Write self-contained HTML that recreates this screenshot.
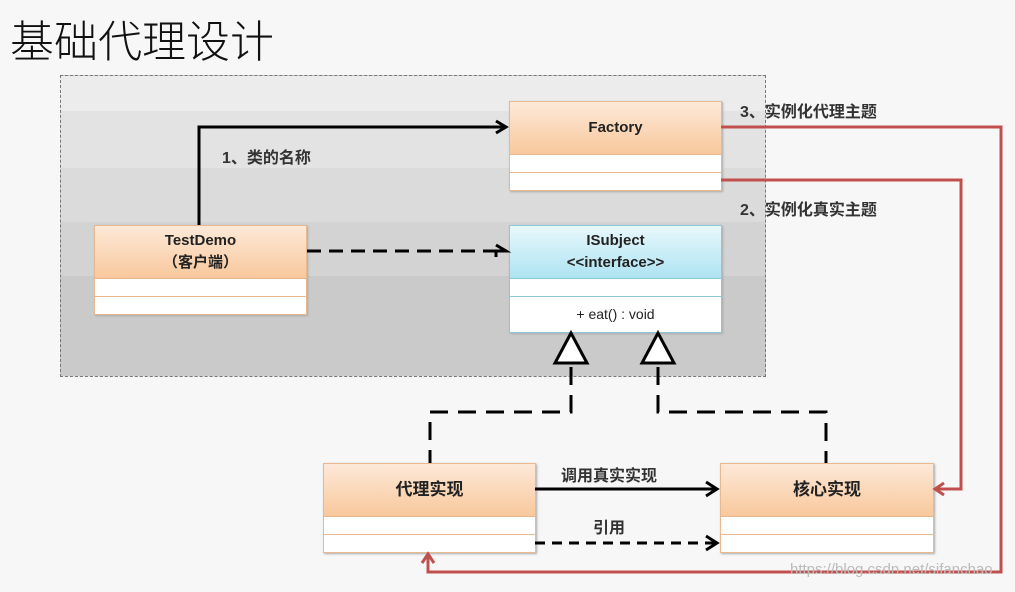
<!DOCTYPE html>
<html><head><meta charset="utf-8"><style>
body{margin:0;width:1015px;height:592px;background:#f7f7f7;overflow:hidden;position:relative;font-family:"Liberation Sans","Noto Sans CJK SC",sans-serif}
.t{position:absolute;left:10px;top:6px;font-size:44px;color:#111;font-family:"Noto Sans CJK SC",sans-serif;font-weight:300}
.cont{position:absolute;left:60px;top:75px;width:704px;height:300px;border:1px dashed #777;background:linear-gradient(#ececec 0,#ececec 35px,#e3e3e3 35px,#e3e3e3 92px,#dbdbdb 92px,#dbdbdb 146px,#d3d3d3 146px,#d3d3d3 200px,#cacaca 200px)}
.box{position:absolute;border:1px solid #e8b890;background:#fff;box-shadow:1px 1px 2px #aaa}
.hd{background:linear-gradient(#fde9d8,#f8c89c);border-bottom:1px solid #e8b890;display:flex;align-items:center;justify-content:center;text-align:center;font-weight:bold;font-size:15px;color:#222;line-height:22px}
.row{border-bottom:1px solid #e8b890}
.blue{border-color:#8cc8dc}.blue .hd{background:linear-gradient(#e8f8fc,#aee3f2);border-color:#8cc8dc}.blue .row{border-color:#8cc8dc}
.lb{position:absolute;font-size:16px;font-weight:bold;color:#333;font-family:"Liberation Sans","Noto Sans CJK SC",sans-serif}
</style></head><body>
<div class="t">基础代理设计</div>
<div class="cont"></div>
<div class="box" style="left:509px;top:101px;width:211px;height:88px"><div class="hd" style="height:52px">Factory</div><div class="row" style="height:17px"></div></div>
<div class="box blue" style="left:509px;top:225px;width:211px;height:106px"><div class="hd" style="height:52px;font-size:15px">ISubject<br>&lt;&lt;interface&gt;&gt;</div><div class="row" style="height:17px"></div><div style="text-align:center;font-size:14px;line-height:34px;color:#222">+ eat() : void</div></div>
<div class="box" style="left:94px;top:225px;width:211px;height:88px"><div class="hd" style="height:52px">TestDemo<br>（客户端）</div><div class="row" style="height:17px"></div></div>
<div class="box" style="left:323px;top:463px;width:211px;height:88px"><div class="hd" style="height:52px;font-size:17px">代理实现</div><div class="row" style="height:17px"></div></div>
<div class="box" style="left:720px;top:463px;width:212px;height:88px"><div class="hd" style="height:52px;font-size:17px">核心实现</div><div class="row" style="height:17px"></div></div>
<svg width="1015" height="592" style="position:absolute;left:0;top:0" fill="none">
<g stroke="#000" stroke-width="3">
<polyline points="199,225 199,127 505,127"/><polyline points="496,121 506,127 496,133"/>
<line x1="307" y1="251" x2="505" y2="251" stroke-dasharray="14,8"/><polyline points="496,245 506,251 496,251 496,257"/>
<polyline points="571,367 571,412 430,412 430,463" stroke-dasharray="18,10"/>
<polyline points="658,367 658,412 826,412 826,463" stroke-dasharray="18,10"/>
<line x1="535" y1="489" x2="716" y2="489"/><polyline points="706,482 717,489 706,496"/>
<line x1="535" y1="543" x2="716" y2="543" stroke-dasharray="10,7"/><polyline points="706,536 717,543 706,550"/>
</g>
<polygon points="571,333 555,363 587,363" fill="#fff" stroke="#000" stroke-width="3"/>
<polygon points="658,333 642,363 674,363" fill="#fff" stroke="#000" stroke-width="3"/>
<g stroke="#c0504d" stroke-width="3">
<polyline points="721,127 1001,127 1001,572 428,572 428,555"/><polyline points="422,563 428,554 434,563"/>
<polyline points="721,180 961,180 961,489 936,489"/><polyline points="944,483 935,489 944,495"/>
</g>
</svg>
<div class="lb" style="left:222px;top:144px">1、类的名称</div>
<div class="lb" style="left:740px;top:98px">3、实例化代理主题</div>
<div class="lb" style="left:740px;top:196px">2、实例化真实主题</div>
<div class="lb" style="left:561px;top:462px">调用真实实现</div>
<div class="lb" style="left:593px;top:514px">引用</div>
<div style="position:absolute;left:790px;top:561px;font-size:15px;color:#bbb">https://blog.csdn.net/sifanchao</div>
</body></html>
